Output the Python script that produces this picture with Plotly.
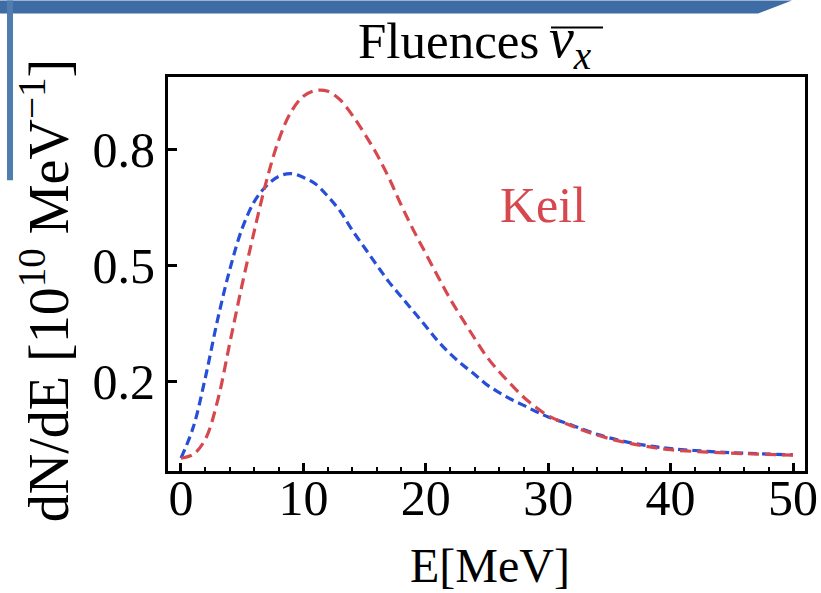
import plotly.graph_objects as go

# ---- data ----
energy_blue = [0, 1, 2, 3, 4, 5, 6, 7, 8, 9, 10, 11, 12, 13, 14, 15, 16, 17, 18, 19, 20,
               21, 22, 23, 24, 25, 26, 27, 28, 29, 30, 32, 34, 36, 38, 40, 43, 46, 50]
flux_blue = [0.0, 0.08, 0.21, 0.36, 0.49, 0.595, 0.665, 0.706, 0.73, 0.737, 0.727, 0.71,
             0.678, 0.64, 0.59, 0.545, 0.50, 0.456, 0.418, 0.38, 0.342, 0.303, 0.27, 0.242,
             0.217, 0.19, 0.17, 0.152, 0.137, 0.121, 0.107, 0.085, 0.062, 0.045, 0.033,
             0.025, 0.018, 0.013, 0.009]

energy_red = [0, 1, 2, 3, 4, 5, 6, 7, 8, 9, 10, 11, 12, 13, 14, 15, 16, 17, 18, 19, 20,
              21, 22, 23, 24, 25, 26, 27, 28, 29, 30, 32, 34, 36, 38, 40, 43, 46, 50]
flux_red = [0.0, 0.01, 0.05, 0.15, 0.30, 0.45, 0.59, 0.72, 0.825, 0.897, 0.937, 0.952,
            0.95, 0.928, 0.888, 0.84, 0.787, 0.725, 0.655, 0.59, 0.53, 0.47, 0.412, 0.36,
            0.31, 0.262, 0.224, 0.19, 0.158, 0.132, 0.11, 0.083, 0.06, 0.043, 0.031,
            0.022, 0.016, 0.012, 0.008]

x_tickvals = [0, 10, 20, 30, 40, 50]
x_ticktext = ["0", "10", "20", "30", "40", "50"]
y_tickvals = [0.2, 0.5, 0.8]
y_ticktext = ["0.2", "0.5", "0.8"]

title_word = "Fluences"
title_symbol = "<i>ν<sub>x</sub></i>"
x_title = "E[MeV]"
y_title = "dN/dE [10<sup>10</sup> MeV<sup>−1</sup>]"
label_text = "Keil"
label_pos = (29.6, 0.655)

RED = "rgb(214,72,78)"
BLUE = "rgb(38,78,214)"
FONT = "Liberation Serif, Times New Roman, serif"

fig = go.Figure()
fig.add_trace(go.Scatter(x=energy_blue, y=flux_blue, mode="lines", name="blue",
                         line=dict(color=BLUE, width=3.2, dash="9px,5px", shape="spline")))
fig.add_trace(go.Scatter(x=energy_red, y=flux_red, mode="lines", name="Keil",
                         line=dict(color=RED, width=3.2, dash="11px,6px", shape="spline")))

# pixel -> paper helpers (plot area 168..805 x 76.5..471)
L, R, T, B = 168, 805, 76.5, 471
def px(x):
    return (x - L) / (R - L)
def py(y):
    return (B - y) / (B - T)

fig.update_layout(
    width=821, height=593,
    margin=dict(l=L, r=821 - R, t=T, b=593 - B, autoexpand=False),
    paper_bgcolor="white", plot_bgcolor="white",
    showlegend=False,
    font=dict(family=FONT, color="black", size=48),
    xaxis=dict(range=[-1.06, 50.98], tickvals=x_tickvals, ticktext=x_ticktext,
               ticks="inside", ticklen=8, tickwidth=2.5, tickcolor="black",
               minor=dict(dtick=2, tick0=0, ticks="inside", ticklen=4, tickwidth=2, tickcolor="black"),
               showline=True, linewidth=3, linecolor="black", mirror=True,
               showgrid=False, zeroline=False, automargin=False,
               tickfont=dict(family=FONT, size=50, color="black"),
               ticklabelstandoff=-19),
    yaxis=dict(range=[-0.033, 0.987], tickvals=y_tickvals, ticktext=y_ticktext,
               ticks="inside", ticklen=9, tickwidth=2.5, tickcolor="black",
               showline=True, linewidth=3, linecolor="black", mirror=True,
               showgrid=False, zeroline=False, automargin=False,
               tickfont=dict(family=FONT, size=50, color="black")),
)

annotations = [
    dict(text=title_word, x=px(541), y=py(40), xref="paper", yref="paper",
         xanchor="right", yanchor="middle", showarrow=False,
         font=dict(family=FONT, size=51, color="black")),
    dict(text=title_symbol, x=px(547), y=py(41), xref="paper", yref="paper",
         xanchor="left", yanchor="middle", showarrow=False,
         font=dict(family=FONT, size=56, color="black")),
    dict(text=x_title, x=px(490), y=py(566), xref="paper", yref="paper",
         xanchor="center", yanchor="middle", showarrow=False,
         font=dict(family=FONT, size=48, color="black")),
    dict(text=y_title, x=px(45), y=py(290), xref="paper", yref="paper",
         xanchor="center", yanchor="middle", showarrow=False, textangle=-90,
         font=dict(family=FONT, size=56, color="black")),
    dict(text=label_text, x=label_pos[0], y=label_pos[1], xref="x", yref="y",
         xanchor="center", yanchor="middle", showarrow=False,
         font=dict(family=FONT, size=50, color=RED)),
]
fig.update_layout(annotations=annotations)

shapes = [
    # overline on the antineutrino symbol
    dict(type="line", xref="paper", yref="paper", x0=px(551), x1=px(603), y0=py(27), y1=py(27),
         line=dict(color="black", width=2)),
    # slide decoration: top blue band
    dict(type="path", xref="paper", yref="paper",
         path=f"M {px(0)},{py(0)} L {px(792)},{py(0)} L {px(758)},{py(13)} L {px(0)},{py(13)} Z",
         fillcolor="rgb(62,108,165)", line=dict(width=0), layer="below"),
    # slide decoration: left vertical bar
    dict(type="rect", xref="paper", yref="paper", x0=px(7), x1=px(13), y0=py(180), y1=py(0),
         fillcolor="rgb(80,125,175)", line=dict(width=0), layer="below"),
]
fig.update_layout(shapes=shapes)

fig.write_html("out.html", config={"displayModeBar": False},
               post_script="document.body.style.margin='0';document.body.style.padding='0';")
